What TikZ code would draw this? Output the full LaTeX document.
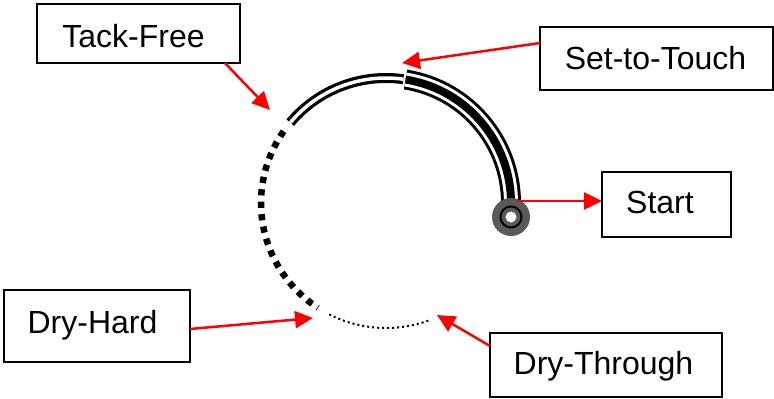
\documentclass[tikz,border=0pt]{standalone}
\usepackage{fontspec}
\setmainfont{Liberation Sans}
\usetikzlibrary{arrows.meta}
\definecolor{dg}{RGB}{90,90,90}
\begin{document}
\begin{tikzpicture}[x=1pt,y=-1pt,
  box/.style={draw=black, line width=2pt, fill=white, inner sep=0pt, outer sep=0pt},
  lbl/.style={font=\fontsize{32}{38}\selectfont, inner sep=0pt, anchor=base},
  arr/.style={draw=red, line width=2.5pt, -{Triangle[length=18pt,width=17pt]}}]
\useasboundingbox (0,0) rectangle (774,399);
% circle path
\coordinate (c) at (386,203);
\draw[line width=20pt] (c) ++(-3:125pt) arc[start angle=-3, end angle=81, radius=125pt];
\draw[line width=14pt, white] (c) ++(-3:125pt) arc[start angle=-3, end angle=81, radius=125pt];
\draw[line width=8pt] (c) ++(-3:125pt) arc[start angle=-3, end angle=81, radius=125pt];
\draw[line width=10pt] (c) ++(82:125pt) arc[start angle=82, end angle=140, radius=125pt];
\draw[line width=3.5pt, white] (c) ++(82:125pt) arc[start angle=82, end angle=140, radius=125pt];
\draw[line width=6.5pt, dash pattern=on 6.25pt off 6.25pt] (c) ++(145:125pt) arc[start angle=145, end angle=237, radius=125pt];
\draw[line width=2pt, dash pattern=on 2pt off 3pt] (c) ++(243:125pt) arc[start angle=243, end angle=290, radius=125pt];
% start marker
\node[circle, fill=dg, minimum size=38pt, inner sep=0pt] (sc) at (511,217) {};
\draw[line width=2pt] (sc.center) circle[radius=10.5pt];
\fill[white] (sc.center) circle[radius=5.5pt];
% boxes
\node[box, minimum width=203pt, minimum height=59pt] (tf) at (138.5,33.5) {};
\node[box, minimum width=233pt, minimum height=63pt] (st) at (656.5,58.5) {};
\node[box, minimum width=129pt, minimum height=65pt] (sb) at (666.5,204.5) {};
\node[box, minimum width=186pt, minimum height=72pt] (dh) at (97,326) {};
\node[box, minimum width=232pt, minimum height=64pt] (dt) at (606,365) {};
% labels
\node[lbl] (tft) at (133.5,47) {Tack-Free};
\node[lbl] (stt) at (655.5,69) {Set-to-Touch};
\node[lbl] (sbt) at (660,213) {Start};
\node[lbl] (dht) at (92.5,333) {Dry-Hard};
\node[lbl] (dtt) at (603.5,374) {Dry-Through};
% arrow targets
\coordinate (tfp) at (270,110);
\coordinate (stp) at (402,63);
\coordinate (dhp) at (313,318);
\coordinate (dtp) at (437,315);
\coordinate (sa) at (517,201);
% arrows
\draw[arr] ([xshift=86.5pt]tf.south) -- (tfp);
\draw[arr] ([yshift=15.5pt]st.west) -- (stp);
\draw[arr] (sa) -- (sa -| sb.west);
\draw[arr] ([yshift=-3pt]dh.east) -- (dhp);
\draw[arr] ([yshift=19pt]dt.west) -- (dtp);
\end{tikzpicture}
\end{document}
